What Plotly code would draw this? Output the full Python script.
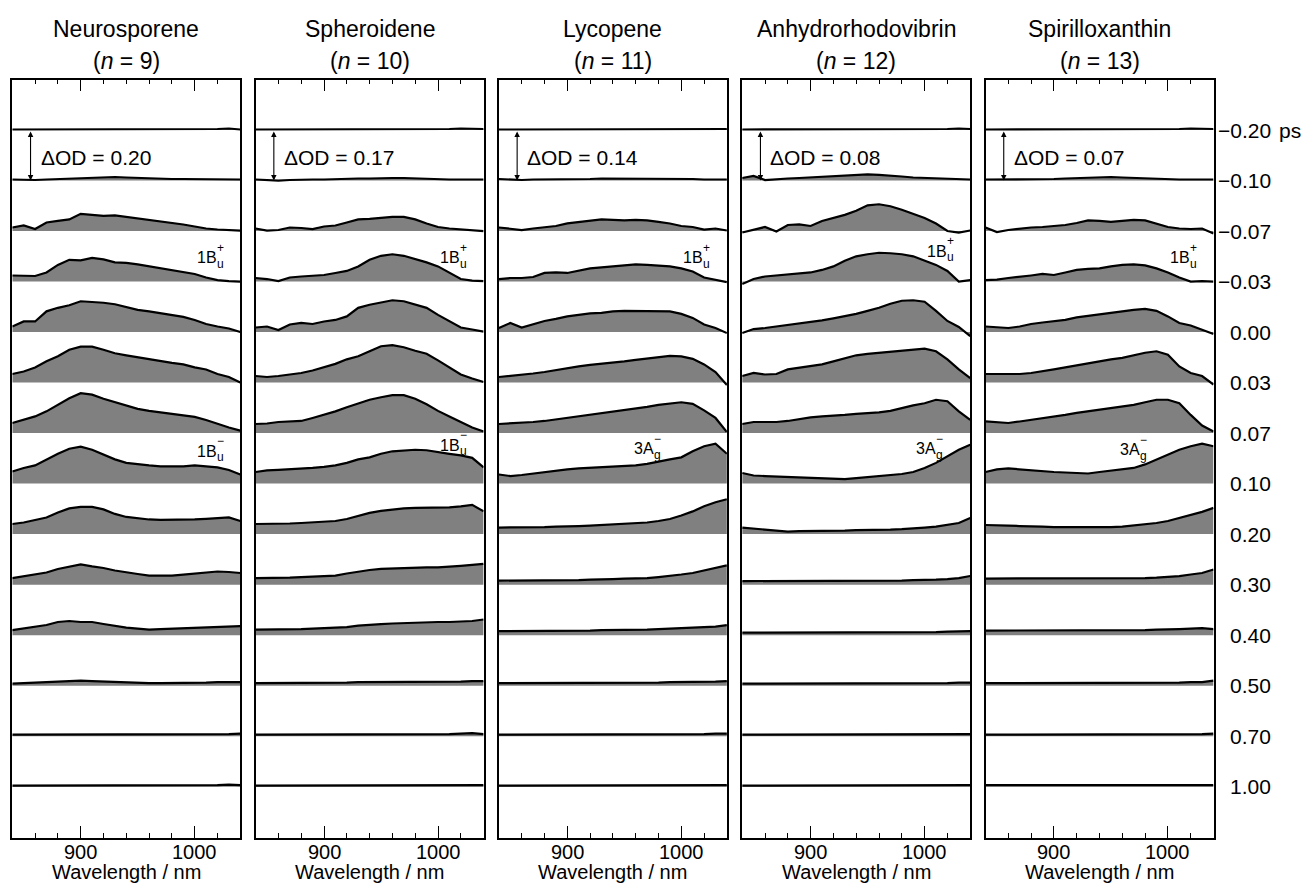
import plotly.graph_objects as go

# ---------------- data ----------------
WAVELENGTH = [840, 850, 860, 870, 880, 890, 900, 910, 920, 930, 940,
              950, 960, 970, 980, 990, 1000, 1010, 1020, 1030, 1040]
TICK_VALUES = [900, 1000]

DELAY_LABELS = ["\u22120.20", "\u22120.10", "\u22120.07", "\u22120.03", "0.00", "0.03", "0.07",
                "0.10", "0.20", "0.30", "0.40", "0.50", "0.70", "1.00"]

CAROTENOIDS = ["Neurosporene", "Spheroidene", "Lycopene", "Anhydrorhodovibrin", "Spirilloxanthin"]
N_VALUES = [9, 10, 11, 12, 13]
DOD_SCALE = [0.20, 0.17, 0.14, 0.08, 0.07]   # ΔOD of the scale bar (= one row spacing)

# Transient absorption spectra, in units of each panel's ΔOD scale bar.
# Rows: delay -0.20 ps (top) ... 1.00 ps (bottom); columns: WAVELENGTH.
NEURO = [
    [0.01, 0.01, 0.01, 0.01, 0.01, 0.01, 0.02, 0.01, 0.01, 0.01, 0.01, 0.01, 0.01, 0.01, 0.02, 0.01, 0.01, 0.02, 0.02, 0.03, 0.01],
    [0.02, 0.01, 0.01, 0.02, 0.03, 0.04, 0.05, 0.06, 0.07, 0.07, 0.06, 0.05, 0.04, 0.04, 0.03, 0.03, 0.03, 0.02, 0.02, 0.03, 0.02],
    [0.07, 0.11, 0.04, 0.17, 0.20, 0.23, 0.34, 0.32, 0.30, 0.31, 0.28, 0.25, 0.23, 0.20, 0.17, 0.13, 0.09, 0.05, 0.03, 0.02, 0.01],
    [0.12, 0.12, 0.11, 0.18, 0.33, 0.43, 0.42, 0.47, 0.44, 0.38, 0.37, 0.34, 0.30, 0.26, 0.23, 0.19, 0.15, 0.08, 0.03, 0.01, 0.00],
    [0.11, 0.21, 0.21, 0.41, 0.48, 0.53, 0.61, 0.60, 0.58, 0.55, 0.49, 0.44, 0.41, 0.37, 0.34, 0.30, 0.24, 0.16, 0.11, 0.07, 0.00],
    [0.17, 0.22, 0.30, 0.42, 0.52, 0.65, 0.71, 0.71, 0.65, 0.58, 0.54, 0.50, 0.46, 0.42, 0.39, 0.36, 0.30, 0.26, 0.17, 0.11, 0.00],
    [0.20, 0.26, 0.33, 0.43, 0.56, 0.69, 0.79, 0.76, 0.68, 0.61, 0.55, 0.48, 0.44, 0.41, 0.38, 0.36, 0.32, 0.26, 0.18, 0.11, 0.05],
    [0.24, 0.31, 0.36, 0.48, 0.59, 0.69, 0.73, 0.67, 0.57, 0.48, 0.41, 0.38, 0.36, 0.34, 0.34, 0.34, 0.36, 0.34, 0.32, 0.27, 0.18],
    [0.20, 0.23, 0.28, 0.33, 0.43, 0.51, 0.54, 0.54, 0.49, 0.40, 0.34, 0.31, 0.29, 0.28, 0.28, 0.28, 0.29, 0.30, 0.32, 0.33, 0.26],
    [0.13, 0.17, 0.20, 0.24, 0.31, 0.36, 0.40, 0.36, 0.33, 0.28, 0.24, 0.21, 0.18, 0.18, 0.18, 0.20, 0.22, 0.24, 0.26, 0.25, 0.23],
    [0.10, 0.13, 0.16, 0.20, 0.26, 0.28, 0.26, 0.26, 0.22, 0.18, 0.15, 0.13, 0.11, 0.12, 0.13, 0.13, 0.15, 0.16, 0.17, 0.17, 0.18],
    [0.04, 0.05, 0.06, 0.07, 0.09, 0.10, 0.10, 0.09, 0.08, 0.07, 0.06, 0.05, 0.05, 0.05, 0.05, 0.05, 0.06, 0.06, 0.07, 0.07, 0.07],
    [0.03, 0.03, 0.03, 0.03, 0.04, 0.04, 0.04, 0.04, 0.03, 0.03, 0.03, 0.03, 0.03, 0.03, 0.03, 0.03, 0.03, 0.03, 0.04, 0.04, 0.05],
    [0.02, 0.02, 0.02, 0.02, 0.02, 0.02, 0.02, 0.02, 0.02, 0.02, 0.02, 0.02, 0.02, 0.02, 0.02, 0.02, 0.02, 0.03, 0.03, 0.04, 0.03],
]

SPHER = [
    [0.01, 0.01, 0.01, 0.01, 0.01, 0.01, 0.01, 0.01, 0.01, 0.01, 0.01, 0.01, 0.01, 0.01, 0.01, 0.01, 0.02, 0.02, 0.03, 0.03, 0.02],
    [0.02, 0.01, 0.00, 0.01, 0.02, 0.02, 0.02, 0.03, 0.03, 0.04, 0.04, 0.05, 0.05, 0.05, 0.04, 0.03, 0.02, 0.02, 0.02, 0.02, 0.02],
    [0.05, 0.01, 0.02, 0.07, 0.06, 0.04, 0.09, 0.11, 0.17, 0.23, 0.24, 0.26, 0.28, 0.28, 0.23, 0.15, 0.08, 0.05, 0.03, 0.01, 0.00],
    [0.07, 0.05, 0.01, 0.08, 0.10, 0.11, 0.13, 0.17, 0.21, 0.30, 0.43, 0.51, 0.54, 0.51, 0.45, 0.38, 0.30, 0.17, 0.05, 0.02, 0.01],
    [0.09, 0.11, 0.04, 0.15, 0.18, 0.16, 0.21, 0.24, 0.31, 0.48, 0.54, 0.59, 0.63, 0.61, 0.55, 0.48, 0.34, 0.21, 0.09, 0.05, 0.01],
    [0.13, 0.11, 0.13, 0.16, 0.19, 0.24, 0.30, 0.37, 0.46, 0.52, 0.62, 0.72, 0.74, 0.70, 0.63, 0.57, 0.44, 0.30, 0.16, 0.08, 0.01],
    [0.18, 0.19, 0.22, 0.23, 0.24, 0.30, 0.36, 0.43, 0.51, 0.59, 0.66, 0.71, 0.75, 0.75, 0.68, 0.57, 0.44, 0.33, 0.22, 0.11, 0.03],
    [0.23, 0.26, 0.27, 0.28, 0.29, 0.31, 0.33, 0.36, 0.41, 0.48, 0.52, 0.59, 0.64, 0.66, 0.67, 0.66, 0.62, 0.59, 0.56, 0.51, 0.32],
    [0.20, 0.20, 0.21, 0.21, 0.22, 0.23, 0.24, 0.26, 0.30, 0.36, 0.42, 0.46, 0.49, 0.51, 0.52, 0.52, 0.53, 0.53, 0.55, 0.58, 0.45],
    [0.13, 0.13, 0.14, 0.14, 0.15, 0.16, 0.17, 0.18, 0.22, 0.26, 0.29, 0.31, 0.32, 0.33, 0.34, 0.34, 0.34, 0.35, 0.37, 0.39, 0.41],
    [0.11, 0.11, 0.11, 0.12, 0.12, 0.13, 0.14, 0.15, 0.16, 0.19, 0.21, 0.22, 0.23, 0.24, 0.25, 0.25, 0.26, 0.26, 0.27, 0.28, 0.31],
    [0.05, 0.05, 0.05, 0.05, 0.05, 0.05, 0.06, 0.06, 0.06, 0.07, 0.07, 0.07, 0.07, 0.07, 0.07, 0.07, 0.07, 0.08, 0.08, 0.09, 0.09],
    [0.03, 0.03, 0.03, 0.03, 0.03, 0.03, 0.03, 0.03, 0.03, 0.03, 0.03, 0.03, 0.03, 0.03, 0.03, 0.03, 0.04, 0.04, 0.05, 0.06, 0.04],
    [0.02, 0.02, 0.02, 0.02, 0.02, 0.02, 0.02, 0.02, 0.02, 0.02, 0.02, 0.02, 0.02, 0.02, 0.02, 0.02, 0.02, 0.02, 0.03, 0.03, 0.03],
]

LYCO = [
    [0.01, 0.01, 0.01, 0.01, 0.01, 0.01, 0.01, 0.01, 0.01, 0.01, 0.01, 0.01, 0.01, 0.01, 0.01, 0.01, 0.01, 0.02, 0.02, 0.02, 0.02],
    [0.03, 0.02, 0.01, 0.02, 0.02, 0.03, 0.03, 0.03, 0.03, 0.04, 0.04, 0.04, 0.04, 0.04, 0.04, 0.03, 0.03, 0.03, 0.02, 0.02, 0.02],
    [0.07, 0.05, 0.02, 0.05, 0.07, 0.10, 0.15, 0.18, 0.20, 0.23, 0.22, 0.21, 0.22, 0.21, 0.18, 0.15, 0.10, 0.08, 0.03, 0.05, 0.01],
    [0.05, 0.07, 0.07, 0.09, 0.17, 0.18, 0.17, 0.22, 0.26, 0.28, 0.30, 0.33, 0.34, 0.33, 0.31, 0.30, 0.26, 0.20, 0.08, 0.03, -0.01],
    [0.08, 0.18, 0.09, 0.16, 0.22, 0.26, 0.31, 0.34, 0.37, 0.38, 0.41, 0.42, 0.42, 0.42, 0.42, 0.41, 0.36, 0.28, 0.15, 0.08, -0.02],
    [0.11, 0.13, 0.15, 0.18, 0.21, 0.25, 0.28, 0.32, 0.35, 0.37, 0.40, 0.42, 0.45, 0.48, 0.51, 0.53, 0.52, 0.47, 0.36, 0.21, -0.05],
    [0.18, 0.19, 0.20, 0.22, 0.24, 0.27, 0.30, 0.33, 0.36, 0.40, 0.43, 0.46, 0.48, 0.52, 0.56, 0.59, 0.61, 0.58, 0.45, 0.30, 0.02],
    [0.18, 0.15, 0.17, 0.20, 0.22, 0.25, 0.28, 0.30, 0.31, 0.32, 0.33, 0.34, 0.36, 0.39, 0.44, 0.48, 0.52, 0.64, 0.74, 0.79, 0.59],
    [0.13, 0.13, 0.13, 0.14, 0.14, 0.15, 0.15, 0.16, 0.17, 0.18, 0.19, 0.20, 0.21, 0.23, 0.26, 0.30, 0.37, 0.45, 0.55, 0.63, 0.69],
    [0.08, 0.08, 0.08, 0.08, 0.09, 0.09, 0.09, 0.09, 0.10, 0.10, 0.11, 0.12, 0.12, 0.13, 0.15, 0.17, 0.20, 0.23, 0.28, 0.33, 0.38],
    [0.08, 0.08, 0.08, 0.08, 0.08, 0.09, 0.09, 0.09, 0.09, 0.10, 0.10, 0.10, 0.11, 0.11, 0.12, 0.13, 0.13, 0.15, 0.16, 0.17, 0.20],
    [0.05, 0.05, 0.05, 0.05, 0.05, 0.05, 0.05, 0.05, 0.05, 0.05, 0.05, 0.06, 0.06, 0.06, 0.06, 0.07, 0.07, 0.07, 0.08, 0.08, 0.09],
    [0.03, 0.03, 0.03, 0.03, 0.03, 0.03, 0.03, 0.03, 0.03, 0.03, 0.03, 0.03, 0.03, 0.03, 0.03, 0.03, 0.03, 0.04, 0.04, 0.05, 0.05],
    [0.02, 0.02, 0.02, 0.02, 0.02, 0.02, 0.02, 0.02, 0.02, 0.02, 0.02, 0.02, 0.02, 0.02, 0.02, 0.02, 0.02, 0.02, 0.03, 0.03, 0.03],
]

ANHY = [
    [0.01, 0.01, 0.01, 0.01, 0.01, 0.01, 0.01, 0.01, 0.01, 0.01, 0.01, 0.01, 0.01, 0.01, 0.01, 0.01, 0.02, 0.02, 0.02, 0.03, 0.02],
    [0.05, 0.09, 0.01, 0.03, 0.04, 0.05, 0.06, 0.07, 0.08, 0.10, 0.11, 0.12, 0.11, 0.10, 0.08, 0.06, 0.05, 0.04, 0.03, 0.03, 0.02],
    [-0.03, 0.02, 0.08, -0.01, 0.12, 0.13, 0.10, 0.20, 0.26, 0.32, 0.40, 0.51, 0.53, 0.49, 0.42, 0.34, 0.26, 0.15, 0.00, -0.03, 0.01],
    [-0.05, 0.05, 0.10, 0.12, 0.15, 0.17, 0.18, 0.23, 0.30, 0.41, 0.50, 0.54, 0.57, 0.56, 0.54, 0.50, 0.41, 0.33, 0.21, 0.00, 0.03],
    [-0.02, 0.06, 0.08, 0.11, 0.14, 0.16, 0.20, 0.23, 0.27, 0.31, 0.36, 0.42, 0.48, 0.56, 0.62, 0.63, 0.60, 0.42, 0.22, 0.10, -0.08],
    [0.13, 0.19, 0.16, 0.17, 0.26, 0.29, 0.32, 0.36, 0.42, 0.48, 0.54, 0.57, 0.59, 0.60, 0.62, 0.65, 0.67, 0.62, 0.46, 0.26, 0.09],
    [0.18, 0.22, 0.22, 0.22, 0.24, 0.28, 0.31, 0.33, 0.34, 0.36, 0.38, 0.39, 0.41, 0.44, 0.50, 0.55, 0.59, 0.66, 0.63, 0.43, 0.26],
    [0.21, 0.16, 0.15, 0.14, 0.13, 0.13, 0.11, 0.11, 0.10, 0.09, 0.11, 0.13, 0.14, 0.16, 0.19, 0.23, 0.31, 0.41, 0.54, 0.67, 0.77],
    [0.13, 0.11, 0.08, 0.06, 0.05, 0.06, 0.06, 0.07, 0.07, 0.07, 0.08, 0.08, 0.08, 0.09, 0.10, 0.11, 0.13, 0.15, 0.18, 0.22, 0.32],
    [0.07, 0.07, 0.07, 0.07, 0.07, 0.07, 0.07, 0.07, 0.07, 0.07, 0.07, 0.07, 0.08, 0.08, 0.08, 0.09, 0.09, 0.10, 0.11, 0.13, 0.17],
    [0.05, 0.05, 0.05, 0.05, 0.05, 0.05, 0.05, 0.05, 0.05, 0.05, 0.05, 0.05, 0.05, 0.05, 0.05, 0.06, 0.06, 0.06, 0.07, 0.07, 0.08],
    [0.04, 0.04, 0.04, 0.04, 0.04, 0.04, 0.04, 0.04, 0.04, 0.04, 0.04, 0.04, 0.04, 0.04, 0.04, 0.04, 0.05, 0.05, 0.05, 0.06, 0.06],
    [0.03, 0.03, 0.03, 0.03, 0.03, 0.03, 0.03, 0.03, 0.03, 0.03, 0.03, 0.03, 0.03, 0.03, 0.03, 0.03, 0.03, 0.03, 0.04, 0.04, 0.04],
    [0.02, 0.02, 0.02, 0.02, 0.02, 0.02, 0.02, 0.02, 0.02, 0.02, 0.02, 0.02, 0.02, 0.02, 0.02, 0.02, 0.02, 0.02, 0.03, 0.03, 0.03],
]

SPIR = [
    [0.01, 0.01, 0.01, 0.01, 0.01, 0.01, 0.01, 0.01, 0.01, 0.01, 0.01, 0.01, 0.01, 0.01, 0.01, 0.01, 0.02, 0.02, 0.03, 0.02, 0.02],
    [0.02, 0.02, 0.02, 0.02, 0.03, 0.03, 0.03, 0.04, 0.05, 0.06, 0.07, 0.07, 0.06, 0.05, 0.04, 0.03, 0.03, 0.02, 0.02, 0.02, 0.02],
    [0.07, -0.02, 0.02, 0.05, 0.07, 0.08, 0.10, 0.12, 0.16, 0.21, 0.20, 0.18, 0.20, 0.22, 0.21, 0.15, 0.08, 0.05, 0.04, 0.05, -0.05],
    [0.03, 0.04, 0.07, 0.09, 0.12, 0.15, 0.13, 0.18, 0.23, 0.25, 0.26, 0.30, 0.33, 0.34, 0.32, 0.26, 0.18, 0.08, 0.00, 0.01, 0.00],
    [0.11, 0.09, 0.08, 0.11, 0.16, 0.19, 0.21, 0.24, 0.29, 0.32, 0.36, 0.38, 0.41, 0.44, 0.46, 0.42, 0.31, 0.18, 0.13, 0.05, -0.04],
    [0.17, 0.17, 0.16, 0.17, 0.19, 0.22, 0.26, 0.30, 0.34, 0.39, 0.42, 0.46, 0.49, 0.54, 0.59, 0.62, 0.55, 0.32, 0.19, 0.13, -0.04],
    [0.23, 0.22, 0.20, 0.23, 0.26, 0.30, 0.33, 0.36, 0.40, 0.43, 0.46, 0.50, 0.53, 0.56, 0.61, 0.66, 0.66, 0.59, 0.36, 0.15, 0.03],
    [0.23, 0.28, 0.30, 0.28, 0.26, 0.24, 0.23, 0.22, 0.21, 0.20, 0.23, 0.26, 0.28, 0.31, 0.38, 0.48, 0.57, 0.67, 0.74, 0.79, 0.74],
    [0.18, 0.18, 0.17, 0.16, 0.16, 0.15, 0.14, 0.14, 0.13, 0.13, 0.13, 0.14, 0.15, 0.17, 0.19, 0.22, 0.26, 0.32, 0.38, 0.44, 0.52],
    [0.12, 0.12, 0.12, 0.12, 0.12, 0.12, 0.12, 0.12, 0.12, 0.12, 0.12, 0.12, 0.12, 0.13, 0.13, 0.14, 0.15, 0.17, 0.20, 0.23, 0.30],
    [0.09, 0.09, 0.09, 0.09, 0.09, 0.09, 0.09, 0.09, 0.09, 0.09, 0.09, 0.09, 0.10, 0.10, 0.10, 0.11, 0.11, 0.12, 0.13, 0.14, 0.12],
    [0.05, 0.05, 0.05, 0.05, 0.05, 0.05, 0.05, 0.05, 0.05, 0.05, 0.05, 0.05, 0.05, 0.05, 0.05, 0.06, 0.06, 0.06, 0.07, 0.07, 0.10],
    [0.03, 0.03, 0.03, 0.03, 0.03, 0.03, 0.03, 0.03, 0.03, 0.03, 0.03, 0.03, 0.03, 0.03, 0.03, 0.03, 0.03, 0.04, 0.04, 0.04, 0.05],
    [0.03, 0.03, 0.03, 0.03, 0.03, 0.03, 0.03, 0.03, 0.03, 0.03, 0.03, 0.03, 0.03, 0.03, 0.03, 0.03, 0.03, 0.03, 0.04, 0.04, 0.03],
]

# State labels: (panel, text, superscript, subscript, x right edge [nm], y [row units])
STATE_LABELS = [
    (0, "1B", "+", "u", 1021, 10.47), (1, "1B", "+", "u", 1021, 10.47), (2, "1B", "+", "u", 1021, 10.47),
    (3, "1B", "+", "u", 1021, 10.60), (4, "1B", "+", "u", 1021, 10.47),
    (0, "1B", "\u2212", "u", 1021, 6.64), (1, "1B", "\u2212", "u", 1021, 6.76),
    (2, "3A", "\u2212", "g", 978, 6.69), (3, "3A", "\u2212", "g", 1012, 6.69), (4, "3A", "\u2212", "g", 977, 6.67),
]

PANELS = [NEURO, SPHER, LYCO, ANHY, SPIR]

# ---------------- layout geometry ----------------
W, H = 1304, 884
FONT = "Liberation Sans, Arial, Helvetica, sans-serif"
panel_left = [12.3, 255.6, 498.9, 742.2, 985.5]
panel_w = 228.0
y_top_px, y_bot_px = 79.5, 837.7
NROW = len(DELAY_LABELS)

fig = go.Figure()
annotations = []

for p, data in enumerate(PANELS):
    xa = "x" if p == 0 else f"x{p+1}"
    ya = "y" if p == 0 else f"y{p+1}"
    for r, row in enumerate(data):
        off = NROW - 1 - r
        yvals = [off + v for v in row]
        fig.add_trace(go.Scatter(
            x=WAVELENGTH + WAVELENGTH[::-1],
            y=yvals + [off] * len(WAVELENGTH),
            fill="toself", fillcolor="#808080", mode="lines",
            line=dict(width=0, color="#808080"),
            xaxis=xa, yaxis=ya, hoverinfo="skip", showlegend=False))
        fig.add_trace(go.Scatter(
            x=WAVELENGTH, y=yvals, mode="lines",
            line=dict(color="black", width=2.2),
            xaxis=xa, yaxis=ya, hoverinfo="skip", showlegend=False))

    x0 = panel_left[p] / W
    x1 = (panel_left[p] + panel_w) / W
    ydom = [(H - y_bot_px) / H, (H - y_top_px) / H]
    axis_x = dict(
        domain=[x0, x1], range=[840, 1040], anchor=ya,
        tickvals=TICK_VALUES, showticklabels=False,
        ticks="inside", ticklen=12, tickwidth=1.3, tickcolor="black",
        minor=dict(dtick=20, tick0=840, ticks="inside", ticklen=5, tickwidth=1.3, tickcolor="black"),
        showline=True, linecolor="black", linewidth=1.5, mirror="ticks",
        showgrid=False, zeroline=False)
    axis_y = dict(
        domain=ydom, range=[-1.01, 14.0], anchor=xa,
        showline=True, linecolor="black", linewidth=1.5, mirror=True,
        ticks="", showticklabels=False, showgrid=False, zeroline=False)
    fig.update_layout({("xaxis" if p == 0 else f"xaxis{p+1}"): axis_x,
                       ("yaxis" if p == 0 else f"yaxis{p+1}"): axis_y})

    # tick labels
    for tv in TICK_VALUES:
        annotations.append(dict(xref=xa, yref="paper", x=tv, y=1 - 852 / H,
                                text=str(tv), showarrow=False, borderpad=0,
                                xanchor="center", yanchor="middle",
                                font=dict(family=FONT, size=20, color="black")))

    cx = (panel_left[p] + panel_w / 2) / W
    annotations.append(dict(xref="paper", yref="paper", x=cx, y=1 - 29 / H,
                            text=CAROTENOIDS[p], showarrow=False,
                            xanchor="center", yanchor="middle",
                            font=dict(family=FONT, size=23, color="black")))
    annotations.append(dict(xref="paper", yref="paper", x=cx, y=1 - 61 / H,
                            text=f"(<i>n</i> = {N_VALUES[p]})", showarrow=False,
                            xanchor="center", yanchor="middle",
                            font=dict(family=FONT, size=23, color="black")))
    annotations.append(dict(xref="paper", yref="paper", x=cx, y=0,
                            text="Wavelength / nm", showarrow=False, borderpad=0,
                            xanchor="center", yanchor="bottom",
                            font=dict(family=FONT, size=20, color="black")))
    # ΔOD scale bar
    annotations.append(dict(xref=xa, yref=ya, x=856, y=NROW - 2, ax=856, ay=NROW - 1,
                            axref=xa, ayref=ya, text="", showarrow=True,
                            arrowhead=2, startarrowhead=2, arrowside="end+start",
                            arrowsize=1, arrowwidth=1.1, arrowcolor="black",
                            standoff=0, startstandoff=0))
    annotations.append(dict(xref=xa, yref=ya, x=863, y=NROW - 1.54,
                            text=f"\u0394OD = {DOD_SCALE[p]:.2f}", showarrow=False,
                            xanchor="left", yanchor="middle",
                            font=dict(family=FONT, size=21, color="black")))

for (p, main, sup, sub, xr, yc) in STATE_LABELS:
    xa = "x" if p == 0 else f"x{p+1}"
    ya = "y" if p == 0 else f"y{p+1}"
    annotations.append(dict(xref=xa, yref=ya, x=xr, y=yc, text=main, showarrow=False,
                            xanchor="right", yanchor="middle",
                            font=dict(family=FONT, size=16, color="black")))
    annotations.append(dict(xref=xa, yref=ya, x=xr - 3.5, y=yc + 0.2, text=sup, showarrow=False,
                            xanchor="left", yanchor="middle",
                            font=dict(family=FONT, size=12, color="black")))
    annotations.append(dict(xref=xa, yref=ya, x=xr - 3.5, y=yc - 0.12, text=sub, showarrow=False,
                            xanchor="left", yanchor="middle",
                            font=dict(family=FONT, size=12, color="black")))

# delay labels on the right
for r, lab in enumerate(DELAY_LABELS):
    annotations.append(dict(xref="paper", yref="y5", x=1273 / W, y=NROW - 1 - r,
                            text=lab, showarrow=False, xanchor="right", yanchor="middle",
                            font=dict(family=FONT, size=21, color="black")))
annotations.append(dict(xref="paper", yref="y5", x=1277 / W, y=NROW - 1,
                        text="ps", showarrow=False, xanchor="left", yanchor="middle",
                        font=dict(family=FONT, size=21, color="black")))

fig.update_layout(
    width=W, height=H, margin=dict(l=0, r=0, t=0, b=0),
    paper_bgcolor="white", plot_bgcolor="white",
    showlegend=False, annotations=annotations)

fig.write_html("out.html")
